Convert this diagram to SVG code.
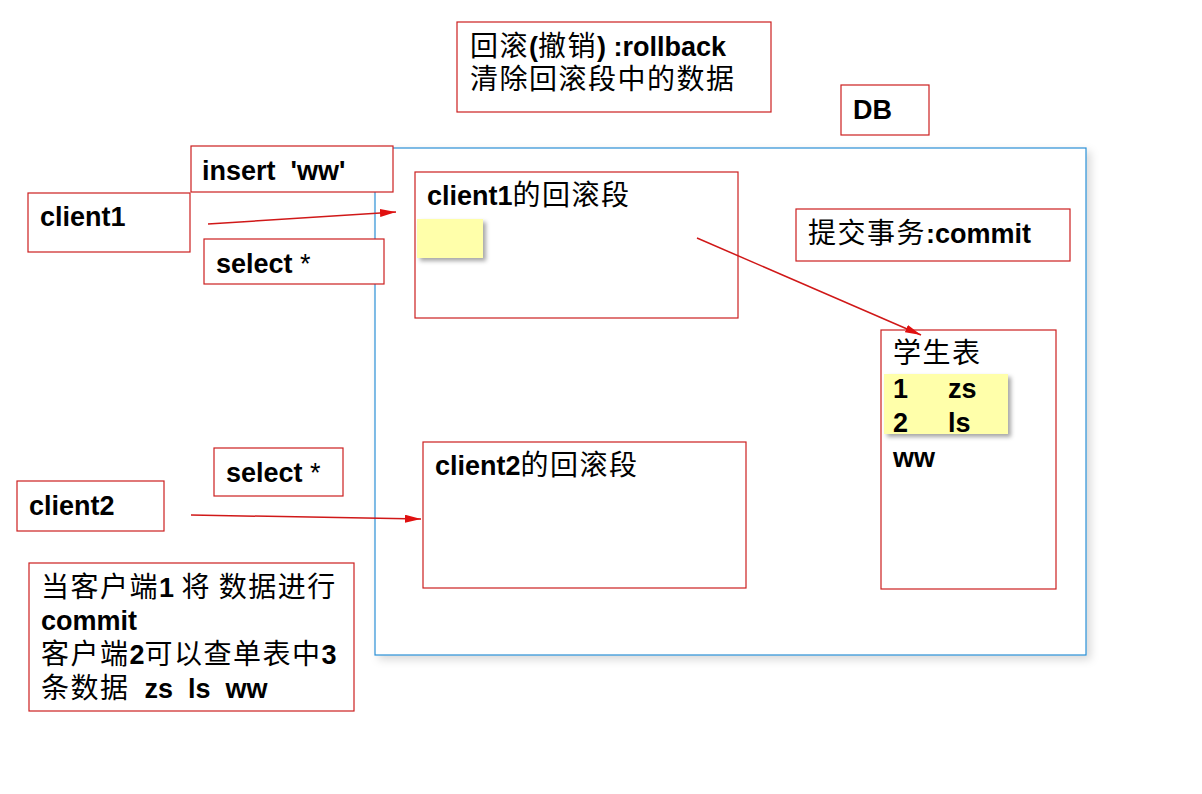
<svg xmlns="http://www.w3.org/2000/svg" width="1202" height="794" viewBox="0 0 1202 794">
<style>
.box{fill:#ffffff;stroke:#cc1f1f;stroke-width:1.2}
.t{font-family:"Liberation Sans","Noto Sans CJK SC",Arial,sans-serif;font-size:27px;font-weight:bold;fill:#000}
.c{font-family:"Noto Sans CJK SC","Liberation Sans",sans-serif;font-size:28px;font-weight:normal;letter-spacing:1.5px}
.y{fill:#ffffaa;stroke:none}
.conn{stroke:#d01818;stroke-width:1.5;fill:none}
</style>
<defs>
<filter id="sh" x="-10%" y="-10%" width="130%" height="130%">
<feDropShadow dx="3" dy="3" stdDeviation="2" flood-color="#000" flood-opacity="0.35"/>
</filter>
<filter id="shl" x="-5%" y="-5%" width="110%" height="110%">
<feDropShadow dx="4" dy="4" stdDeviation="4" flood-color="#000" flood-opacity="0.15"/>
</filter>
<marker id="ah" viewBox="0 0 16 8" refX="16" refY="4" markerWidth="16" markerHeight="8" markerUnits="userSpaceOnUse" orient="auto">
<path d="M0,0 L16,4 L0,8 Z" fill="#e01010"/>
</marker>
</defs>
<rect width="1202" height="794" fill="#ffffff"/>

<g id="db-area">
<rect x="375" y="148" width="711" height="507" fill="#ffffff" stroke="#2b8fd6" stroke-width="1.2" filter="url(#shl)"/>
</g>

<g id="rollback-note">
<rect class="box" x="457" y="22" width="314" height="90"/>
<text class="t" x="470" y="56"><tspan class="c">回滚</tspan>(<tspan class="c">撤销</tspan>) :rollback</text>
<text class="t" x="470" y="89"><tspan class="c">清除回滚段中的数据</tspan></text>
</g>

<g id="db-label">
<rect class="box" x="841" y="85" width="88" height="50"/>
<text class="t" x="853" y="119">DB</text>
</g>

<g id="insert-ww">
<rect class="box" x="191" y="146" width="202" height="46"/>
<text class="t" x="202" y="180" xml:space="preserve">insert  'ww'</text>
</g>

<g id="client1">
<rect class="box" x="28" y="193" width="162" height="59"/>
<text class="t" x="40" y="226">client1</text>
</g>

<g id="select1">
<rect class="box" x="204" y="239" width="180" height="45"/>
<text class="t" x="216" y="273">select <tspan font-weight="normal">*</tspan></text>
</g>

<g id="client1-rollback">
<rect class="box" x="415" y="172" width="323" height="146"/>
<text class="t" x="427" y="205">client1<tspan class="c">的回滚段</tspan></text>
<rect class="y" x="417" y="219" width="66" height="39" filter="url(#sh)"/>
</g>

<g id="commit-note">
<rect class="box" x="796" y="209" width="274" height="52"/>
<text class="t" x="808" y="243"><tspan class="c">提交事务</tspan>:commit</text>
</g>

<g id="student-table">
<rect class="box" x="881" y="330" width="175" height="259"/>
<text class="t" x="893" y="363"><tspan class="c">学生表</tspan></text>
<rect class="y" x="884" y="374" width="124" height="60" filter="url(#sh)"/>
<text class="t" x="893" y="398">1</text>
<text class="t" x="948" y="398">zs</text>
<text class="t" x="893" y="432">2</text>
<text class="t" x="948" y="432">ls</text>
<text class="t" x="893" y="467">ww</text>
</g>

<g id="select2">
<rect class="box" x="214" y="448" width="129" height="48"/>
<text class="t" x="226" y="482">select <tspan font-weight="normal">*</tspan></text>
</g>

<g id="client2">
<rect class="box" x="17" y="481" width="147" height="50"/>
<text class="t" x="29" y="515">client2</text>
</g>

<g id="client2-rollback">
<rect class="box" x="423" y="442" width="323" height="146"/>
<text class="t" x="435" y="475">client2<tspan class="c">的回滚段</tspan></text>
</g>

<g id="summary-note">
<rect class="box" x="29" y="563" width="325" height="148"/>
<text class="t" x="41" y="597" xml:space="preserve"><tspan class="c">当客户端</tspan>1 <tspan class="c">将 数据进行</tspan></text>
<text class="t" x="41" y="630">commit</text>
<text class="t" x="41" y="664"><tspan class="c">客户端</tspan>2<tspan class="c">可以查单表中</tspan>3</text>
<text class="t" x="41" y="698" xml:space="preserve"><tspan class="c">条数据</tspan>  zs  ls  ww</text>
</g>

<g id="connectors">
<line class="conn" x1="208" y1="224" x2="396" y2="212" marker-end="url(#ah)"/>
<line class="conn" x1="697" y1="238" x2="921" y2="335" marker-end="url(#ah)"/>
<line class="conn" x1="191" y1="515" x2="421" y2="519" marker-end="url(#ah)"/>
</g>
</svg>
